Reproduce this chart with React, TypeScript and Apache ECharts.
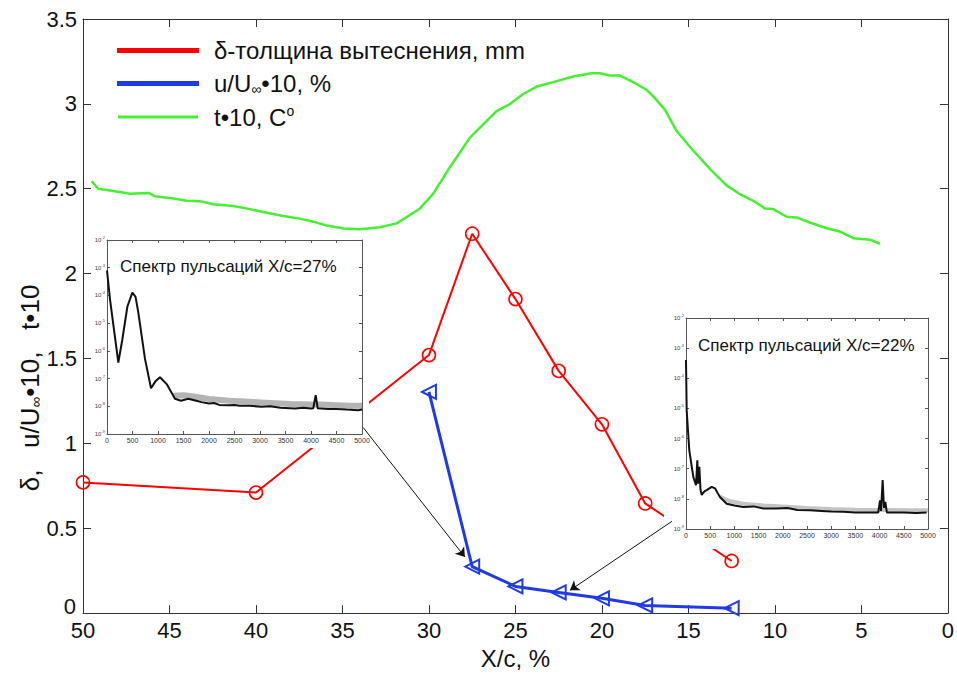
import { useEffect, useRef } from 'react';
import * as echarts from 'echarts';

const FONT = 'Liberation Sans, Arial, sans-serif';

const NAME_DELTA = 'δ-толщина вытеснения, mm';
const NAME_VEL = 'u/U∞•10, %';
const NAME_TEMP = 't•10, C°';

const xTicks = { min: 0, max: 50, step: 5 };
const yTicks = { min: 0, max: 3.5, step: 0.5 };

const deltaX = [50, 40, 30, 27.5, 25, 22.5, 20, 17.5, 12.5];
const deltaY = [0.77, 0.71, 1.52, 2.235, 1.85, 1.427, 1.112, 0.646, 0.307];

const velX = [30, 27.5, 25, 22.5, 20, 17.5, 12.5];
const velY = [1.303, 0.274, 0.157, 0.122, 0.087, 0.045, 0.029];

const tempX = [49.5, 49.12, 48.25, 47.28, 46.23, 45.84, 44.78, 44.01, 43.24, 42.47, 41.31, 40.35, 39.38, 38.42, 37.46, 36.69, 35.91, 34.95, 33.99, 32.83, 31.87, 31.1, 30.52, 29.75, 28.79, 27.63, 26.95, 26.09, 25.32, 24.55, 23.77, 22.82, 21.66, 20.6, 20.12, 19.54, 18.96, 18.19, 17.42, 17.03, 16.36, 15.68, 14.72, 13.66, 12.79, 12.02, 11.25, 10.58, 10.1, 9.32, 8.75, 7.98, 7.01, 6.24, 5.47, 4.51, 3.93];
const tempY = [2.545, 2.5, 2.487, 2.471, 2.475, 2.456, 2.442, 2.429, 2.427, 2.409, 2.398, 2.38, 2.359, 2.34, 2.324, 2.306, 2.283, 2.266, 2.262, 2.273, 2.296, 2.345, 2.384, 2.471, 2.627, 2.801, 2.87, 2.957, 2.999, 3.058, 3.102, 3.128, 3.161, 3.18, 3.18, 3.167, 3.167, 3.128, 3.083, 3.044, 2.966, 2.84, 2.724, 2.607, 2.52, 2.468, 2.429, 2.384, 2.38, 2.335, 2.331, 2.301, 2.267, 2.248, 2.209, 2.2, 2.176];

// inset spectra: frequency (Hz) and log10 of power
const spec27F = [0, 59, 120, 222, 300, 400, 497, 560, 615, 745, 863, 950, 1039, 1170, 1333, 1450, 1594, 1750, 1856, 2000, 2100, 2200, 2379, 2500, 2600, 2800, 3032, 3200, 3400, 3686, 3850, 4000, 4045, 4092, 4131, 4340, 4500, 4700, 4928, 5000];
const spec27E = [-3.1, -4.14, -5.0, -6.42, -5.6, -4.4, -3.9, -4.05, -4.63, -6.29, -7.35, -7.1, -6.95, -7.2, -7.73, -7.8, -7.73, -7.8, -7.85, -7.9, -7.88, -7.95, -7.96, -7.95, -7.98, -7.98, -8.02, -8.0, -8.05, -8.08, -8.05, -8.08, -8.07, -7.6, -8.07, -8.1, -8.1, -8.12, -8.14, -8.12];
// upper edge of the grey noise band
const band27F = [1300, 1500, 1700, 2000, 2400, 2800, 3200, 3600, 4000, 4060, 4200, 4500, 4800, 5000];
const band27E = [-7.62, -7.6, -7.65, -7.74, -7.8, -7.84, -7.88, -7.92, -7.94, -7.94, -7.94, -7.96, -7.98, -7.98];

const spec22F = [0, 14, 68, 151, 207, 234, 250, 262, 275, 300, 324, 380, 427, 531, 599, 650, 702, 840, 1000, 1184, 1400, 1600, 1873, 2100, 2300, 2562, 2800, 3000, 3250, 3500, 3750, 3973, 4008, 4030, 4063, 4090, 4118, 4150, 4215, 4500, 4750, 4972];
const spec22E = [-3.39, -5.06, -6.39, -7.27, -7.55, -6.72, -7.5, -7.5, -6.94, -7.7, -7.87, -7.75, -7.71, -7.6, -7.65, -7.8, -7.94, -8.16, -8.22, -8.27, -8.25, -8.32, -8.32, -8.3, -8.37, -8.38, -8.4, -8.42, -8.43, -8.45, -8.45, -8.45, -8.05, -8.4, -7.38, -8.3, -8.1, -8.45, -8.45, -8.45, -8.47, -8.45];
const band22F = [700, 900, 1200, 1600, 2000, 2500, 3000, 3500, 3950, 4200, 4600, 5000];
const band22E = [-7.92, -8.08, -8.16, -8.22, -8.25, -8.3, -8.34, -8.36, -8.37, -8.37, -8.38, -8.38];

const specTicks = { min: 0, max: 5000, step: 500, logMin: 1e-9, logMax: 1e-2 };

const INSET1_TITLE = 'Спектр пульсаций X/c=27%';
const INSET2_TITLE = 'Спектр пульсаций X/c=22%';

const arrowFrom = [[33.8, 1.093], [15.95, 0.541]];
const arrowTo = [[27.92, 0.33], [21.85, 0.134]];

function zip(a: number[], b: number[]) {
  return a.map((v, i) => [v, b[i]]);
}
function zipLog(a: number[], e: number[]) {
  return a.map((v, i) => [v, Math.pow(10, e[i])]);
}

export default function App() {
  const ref = useRef<HTMLDivElement>(null);
  useEffect(() => {
    const chart = echarts.init(ref.current!, null, { renderer: 'svg' });

    const axisLineStyle = { color: '#333', width: 1 };
    const mainLabel = { fontSize: 22, color: '#111', fontFamily: FONT };

    const insetX = (grid: number, pos: 'bottom' | 'top', showLabel: boolean) => ({
      type: 'value',
      gridIndex: grid,
      position: pos,
      min: specTicks.min,
      max: specTicks.max,
      interval: specTicks.step,
      z: 61,
      axisLine: { show: true, onZero: false, lineStyle: { color: '#555', width: 1 } },
      axisTick: { show: true, inside: true, length: 3, lineStyle: { color: '#555' } },
      axisLabel: {
        show: showLabel,
        fontSize: 7,
        color: '#333',
        margin: 3,
        fontFamily: FONT,
        formatter: (v: number) => String(v),
      },
      splitLine: { show: false },
    });
    const insetY = (grid: number, pos: 'left' | 'right', showLabel: boolean) => ({
      type: 'log',
      logBase: 10,
      gridIndex: grid,
      position: pos,
      min: specTicks.logMin,
      max: specTicks.logMax,
      splitNumber: 7,
      z: 61,
      axisLine: { show: true, onZero: false, lineStyle: { color: '#555', width: 1 } },
      axisTick: { show: true, inside: true, length: 3, lineStyle: { color: '#555' } },
      axisLabel: {
        show: showLabel,
        fontSize: 6,
        color: '#444',
        margin: 2,
        fontFamily: FONT,
        formatter: (v: number) => '10{s|' + Math.round(Math.log10(v)) + '}',
        rich: { s: { fontSize: 4, color: '#444', padding: [0, 0, 5, 0] } },
      },
      splitLine: { show: false },
    });

    const specLine = (name: string, xi: number, f: number[], e: number[], color: string, width: number, z: number) => ({
      name,
      type: 'line',
      xAxisIndex: xi,
      yAxisIndex: xi,
      z,
      data: zipLog(f, e),
      showSymbol: false,
      symbol: 'none',
      lineStyle: { color, width },
    });

    const option: any = {
      animation: false,
      backgroundColor: '#fff',
      textStyle: { fontFamily: FONT },
      grid: [
        { left: 83, right: 9, top: 19, bottom: 54 },
        { left: 107, top: 240, width: 255, height: 194 },
        { left: 686, top: 318, width: 242, height: 211 },
      ],
      legend: {
        orient: 'vertical',
        left: 117,
        top: 38,
        padding: 0,
        itemWidth: 80,
        itemHeight: 3,
        itemGap: 8,
        icon: 'rect',
        data: [
          { name: NAME_DELTA, itemStyle: { color: '#ff0000' } },
          { name: NAME_VEL, itemStyle: { color: '#1f3ae6' } },
          { name: NAME_TEMP, itemStyle: { color: '#44f030' } },
        ],
        formatter: (name: string) => {
          if (name === NAME_VEL) return 'u/U{sub|∞}•10, %';
          if (name === NAME_TEMP) return 't•10, C{sup|o}';
          return name;
        },
        textStyle: {
          fontSize: 24,
          lineHeight: 25,
          color: '#111',
          fontFamily: FONT,
          padding: [0, 0, 0, 11],
          rich: {
            sub: { fontSize: 14, color: '#111', fontFamily: FONT, padding: [10, 0, 0, 0] },
            sup: { fontSize: 14, color: '#111', fontFamily: FONT, padding: [0, 0, 12, 0] },
          },
        },
      },
      xAxis: [
        {
          type: 'value',
          gridIndex: 0,
          position: 'bottom',
          inverse: true,
          min: xTicks.min,
          max: xTicks.max,
          interval: xTicks.step,
          axisLine: { show: true, onZero: false, lineStyle: axisLineStyle },
          axisTick: { show: true, inside: true, length: 8, lineStyle: axisLineStyle },
          axisLabel: { ...mainLabel, margin: 6 },
          splitLine: { show: false },
          name: 'X/c, %',
          nameLocation: 'middle',
          nameGap: 29,
          nameTextStyle: { fontSize: 24, color: '#111', fontFamily: FONT },
        },
        {
          type: 'value',
          gridIndex: 0,
          position: 'top',
          inverse: true,
          min: xTicks.min,
          max: xTicks.max,
          interval: xTicks.step,
          axisLine: { show: true, onZero: false, lineStyle: axisLineStyle },
          axisTick: { show: true, inside: true, length: 8, lineStyle: axisLineStyle },
          axisLabel: { show: false },
          splitLine: { show: false },
        },
        insetX(1, 'bottom', true),
        insetX(1, 'top', false),
        insetX(2, 'bottom', true),
        insetX(2, 'top', false),
      ],
      yAxis: [
        {
          type: 'value',
          gridIndex: 0,
          position: 'left',
          min: yTicks.min,
          max: yTicks.max,
          interval: yTicks.step,
          axisLine: { show: true, onZero: false, lineStyle: axisLineStyle },
          axisTick: { show: true, inside: true, length: 8, lineStyle: axisLineStyle },
          axisLabel: { ...mainLabel, margin: 6, showMinLabel: false },
          splitLine: { show: false },
        },
        {
          type: 'value',
          gridIndex: 0,
          position: 'right',
          min: yTicks.min,
          max: yTicks.max,
          interval: yTicks.step,
          axisLine: { show: true, onZero: false, lineStyle: axisLineStyle },
          axisTick: { show: true, inside: true, length: 8, lineStyle: axisLineStyle },
          axisLabel: { show: false },
          splitLine: { show: false },
        },
        insetY(1, 'left', true),
        insetY(1, 'right', false),
        insetY(2, 'left', true),
        insetY(2, 'right', false),
      ],
      series: [
        {
          name: NAME_TEMP,
          type: 'line',
          xAxisIndex: 0,
          yAxisIndex: 0,
          z: 2,
          data: zip(tempX, tempY),
          showSymbol: false,
          symbol: 'none',
          lineStyle: { color: '#44f030', width: 2.5 },
          itemStyle: { color: '#44f030' },
        },
        {
          name: NAME_DELTA,
          type: 'line',
          xAxisIndex: 0,
          yAxisIndex: 0,
          z: 3,
          data: zip(deltaX, deltaY),
          symbol: 'circle',
          symbolSize: 13,
          lineStyle: { color: '#ff0000', width: 2 },
          itemStyle: { color: 'transparent', borderColor: '#ff0000', borderWidth: 1.6 },
        },
        {
          name: NAME_VEL,
          type: 'line',
          xAxisIndex: 0,
          yAxisIndex: 0,
          z: 4,
          data: zip(velX, velY),
          symbol: 'triangle',
          symbolRotate: 90,
          symbolSize: 14,
          lineStyle: { color: '#1f3ae6', width: 3 },
          itemStyle: { color: 'transparent', borderColor: '#1f3ae6', borderWidth: 2 },
        },
        specLine('band27', 2, band27F, band27E, '#b4b4b4', 6, 62),
        specLine('spec27', 2, spec27F, spec27E, '#111', 2, 63),
        specLine('band22', 4, band22F, band22E, '#c4c4c4', 4, 62),
        specLine('spec22', 4, spec22F, spec22E, '#111', 2, 63),
        {
          name: 'arrows',
          type: 'lines',
          coordinateSystem: 'cartesian2d',
          xAxisIndex: 0,
          yAxisIndex: 0,
          z: 70,
          symbol: ['none', 'arrow'],
          symbolSize: 9,
          lineStyle: { color: '#111', width: 1, opacity: 1, curveness: 0 },
          data: arrowFrom.map((p, i) => ({ coords: [p, arrowTo[i]] })),
        },
      ],
      graphic: [
        { type: 'rect', z: 50, shape: { x: 93, y: 235, width: 276, height: 213 }, style: { fill: '#fff' } },
        { type: 'rect', z: 50, shape: { x: 664, y: 311, width: 275, height: 238 }, style: { fill: '#fff' } },
        {
          type: 'text',
          z: 70,
          x: 120,
          y: 266,
          style: { text: INSET1_TITLE, fontSize: 17, fill: '#111', fontFamily: FONT, verticalAlign: 'middle' },
        },
        {
          type: 'text',
          z: 70,
          x: 698,
          y: 345,
          style: { text: INSET2_TITLE, fontSize: 17, fill: '#111', fontFamily: FONT, verticalAlign: 'middle' },
        },
        {
          type: 'text',
          z: 70,
          x: 76,
          y: 606,
          style: { text: '0', fontSize: 22, fill: '#111', fontFamily: FONT, align: 'right', verticalAlign: 'middle' },
        },
        {
          type: 'text',
          z: 70,
          x: 30,
          y: 388,
          rotation: Math.PI / 2,
          style: {
            text: 'δ,   u/U{sub|∞}•10,   t•10',
            fontSize: 26,
            fill: '#111',
            fontFamily: FONT,
            align: 'center',
            verticalAlign: 'middle',
            rich: {
              sub: { fontSize: 15, fill: '#111', fontFamily: FONT, padding: [10, 0, 0, 0] },
            },
          },
        },
      ],
    };

    chart.setOption(option);
    return () => chart.dispose();
  }, []);

  return (
    <div
      ref={ref}
      style={{ position: 'fixed', left: 0, top: 0, width: 957, height: 675, background: '#fff' }}
    />
  );
}
